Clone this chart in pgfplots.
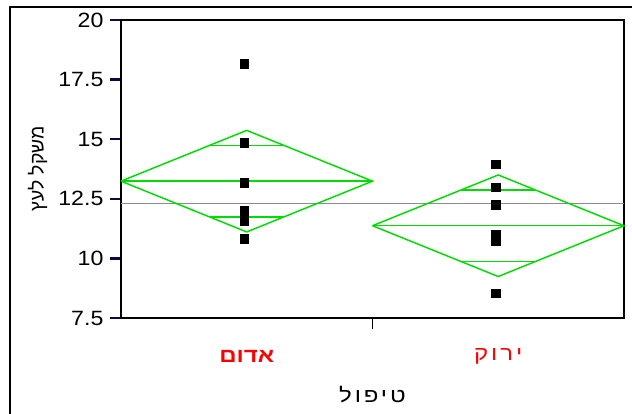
\documentclass[border=0pt]{standalone}
\usepackage{fontspec}
\setmainfont{Liberation Sans}
\newfontfamily\heb[Script=Hebrew]{Liberation Sans}
\newfontfamily\hebsp[Script=Hebrew,LetterSpace=12]{Liberation Sans}
\TeXXeTstate=1
\usepackage{graphicx}
\usepackage{pgfplots}
\pgfplotsset{compat=1.18}
\definecolor{diamondGreen}{RGB}{0,220,0}
\definecolor{meanGray}{RGB}{140,140,140}
\definecolor{lblRed}{RGB}{255,0,0}
\definecolor{tickDark}{RGB}{10,10,70}
% the reference text is a little stretched sideways
\newcommand\sx[1]{\scalebox{1.12}[1]{#1}}
\newcommand\sxh[1]{\scalebox{1.2}[1]{#1}}
\newcommand\nf{\fontsize{15.5}{17}\selectfont}
\newcommand\hf{\fontsize{15}{17}\selectfont}

\begin{document}
\begin{tikzpicture}
% 1 px of the reference = 0.75pt, origin at the plot's lower left corner
\path[use as bounding box] (-90.75pt,-72pt) rectangle (383.25pt,238.5pt);
\draw[line width=1.5pt] (-83.25pt,-80pt) -- (-83.25pt,233.6pt) -- (390pt,233.6pt);
\begin{axis}[
    scale only axis, width=377.25pt, height=223.5pt,
    at={(0pt,0pt)}, anchor=south west,
    xmin=0, xmax=2, ymin=7.5, ymax=20,
    axis line style={line width=1.1pt},
    every tick/.style={black, line width=1.3pt},
    every y tick/.style={tickDark, line width=1.8pt},
    tick align=outside, major tick length=8.5pt,
    xtick pos=bottom, ytick pos=left,
    xtick={0.5,1.5},
    xticklabels={\sxh{\heb\bfseries\beginR אדום\endR},\sxh{\hebsp\beginR ירוק\endR}},
    xtick style={draw=none},
    xticklabel style={font=\hf, text=lblRed, anchor=center, inner sep=0pt, yshift=-20pt},
    extra x ticks={1}, extra x tick labels={},
    extra x tick style={xtick style={draw=black, line width=1.3pt}},
    ytick={7.5,10,12.5,15,17.5,20},
    yticklabels={\sx{7.5},\sx{10},\sx{12.5},\sx{15},\sx{17.5},\sx{20}},
    yticklabel style={font=\nf, anchor=east, inner sep=0pt, xshift=-4.5pt},
    xlabel={\sxh{\hebsp\beginR טיפול\endR}},
    xlabel style={font=\hf, at={(axis description cs:0.5,-0.258)}, anchor=center},
    ylabel={\heb\beginR משקל לעץ\endR},
    ylabel style={font=\fontsize{14.5}{16}\selectfont, at={(axis description cs:-0.166,0.5)}, anchor=center},
    clip=false]
% grand mean
\addplot[meanGray, line width=1.3pt] coordinates {(0,12.30)(2,12.30)};
% means diamonds
\addplot[diamondGreen, line width=1.1pt] coordinates {(0,13.24)(0.5,15.37)(1,13.24)(0.5,11.11)(0,13.24)};
\addplot[diamondGreen, line width=1.1pt] coordinates {(0,13.24)(1,13.24)};
\addplot[diamondGreen, line width=1.1pt] coordinates {(0.352,14.74)(0.648,14.74)};
\addplot[diamondGreen, line width=1.1pt] coordinates {(0.352,11.74)(0.648,11.74)};
\addplot[diamondGreen, line width=1.1pt] coordinates {(1,11.37)(1.5,13.50)(2,11.37)(1.5,9.24)(1,11.37)};
\addplot[diamondGreen, line width=1.1pt] coordinates {(1,11.37)(2,11.37)};
\addplot[diamondGreen, line width=1.1pt] coordinates {(1.352,12.87)(1.648,12.87)};
\addplot[diamondGreen, line width=1.1pt] coordinates {(1.352,9.87)(1.648,9.87)};
% observations
\addplot[only marks, mark=square*, mark size=3.3pt, black] coordinates {
    (0.49,18.18)(0.49,14.85)(0.49,13.18)(0.49,11.99)(0.49,11.58)(0.49,10.81)};
\addplot[only marks, mark=square*, mark size=3.3pt, black] coordinates {
    (1.49,13.95)(1.49,12.98)(1.49,12.24)(1.49,11.00)(1.49,10.75)(1.49,8.54)};
\end{axis}
\end{tikzpicture}
\end{document}
